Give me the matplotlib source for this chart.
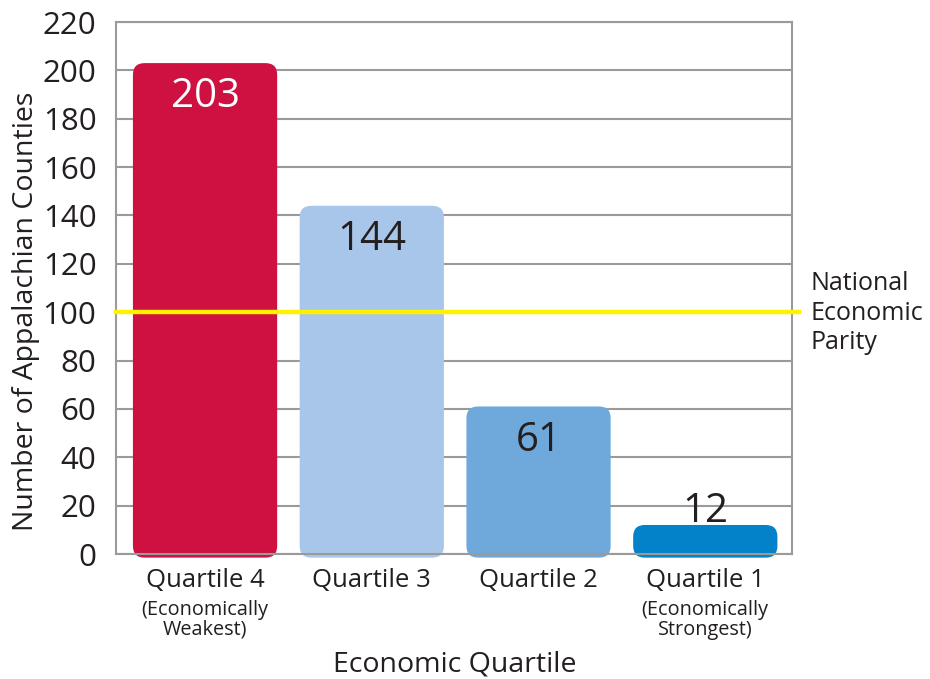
import matplotlib
matplotlib.use("Agg")
import matplotlib.pyplot as plt
from matplotlib.patches import FancyBboxPatch

plt.rcParams['font.family'] = ['Open Sans', 'DejaVu Sans']

quartiles = ["Quartile 4", "Quartile 3", "Quartile 2", "Quartile 1"]
subtitles = ["(Economically\nWeakest)", "", "", "(Economically\nStrongest)"]
counts = [203, 144, 61, 12]
colors = ["#CE1141", "#A8C6E9", "#6FA8DB", "#0382CA"]
parity = 100
yticks = list(range(0, 221, 20))

TXT = "#231F20"
fig = plt.figure(figsize=(9.3, 6.79), dpi=100)
ax = fig.add_axes([116/930, 1-554/679, (792-116)/930, (554-22)/679])
ax.set_xlim(-0.534, 3.52)
ax.set_ylim(0, 220)

for y in yticks:
    ax.axhline(y, color="#9A9A9A", lw=1.5, zorder=1)

x = list(range(len(counts)))
bars = ax.bar(x, counts, width=0.865, color=colors, zorder=0, alpha=0)
for b, c in zip(bars, colors):
    p = FancyBboxPatch((b.get_x(), -1.5), b.get_width(), b.get_height() + 1.5,
                       boxstyle="round,pad=0,rounding_size=0.07",
                       mutation_aspect=69, facecolor=c, edgecolor="none",
                       zorder=2, clip_on=False)
    ax.add_patch(p)

for i, v in enumerate(counts):
    if v > 30:
        ax.annotate(str(v), (i, v), xytext=(0, -10), textcoords="offset points",
                    ha="center", va="top", fontsize=29,
                    color="white" if i == 0 else TXT, zorder=4)
    else:
        ax.annotate(str(v), (i, v), xytext=(0, -5), textcoords="offset points",
                    ha="center", va="bottom", fontsize=29, color=TXT, zorder=4)

ax.plot([-0.534, 3.56], [parity, parity], color="#FFF200", lw=3.2, zorder=3, clip_on=False)
ax.text(810/930, 1-313/679, "National\nEconomic\nParity", transform=fig.transFigure,
        ha="left", va="center", fontsize=18, color=TXT, linespacing=1.22)

for s in ax.spines.values():
    s.set_color("#9A9A9A")
    s.set_linewidth(1.5)

ax.set_yticks(yticks)
ax.tick_params(axis="y", length=0, pad=14, labelsize=22.5, labelcolor=TXT)
ax.set_xticks(x)
ax.set_xticklabels([])
ax.tick_params(axis="x", length=0)
for i, (q, s) in enumerate(zip(quartiles, subtitles)):
    ax.annotate(q, (i, 0), xytext=(0, -10), textcoords="offset points",
                xycoords=("data", "axes fraction"), ha="center", va="top",
                fontsize=18.5, color=TXT, annotation_clip=False)
    if s:
        ax.annotate(s, (i, 0), xytext=(0, -33), textcoords="offset points",
                    xycoords=("data", "axes fraction"), ha="center", va="top",
                    fontsize=14.3, color=TXT, linespacing=1.0, annotation_clip=False)

ax.set_ylabel("Number of Appalachian Counties", fontsize=20.5, color=TXT)
ax.yaxis.set_label_coords((40-116)/676, (554-311)/532)
fig.text(455/930, 1-665/679, "Economic Quartile", ha="center", va="center",
         fontsize=20.5, color=TXT)

fig.savefig("out.png", dpi=100)
